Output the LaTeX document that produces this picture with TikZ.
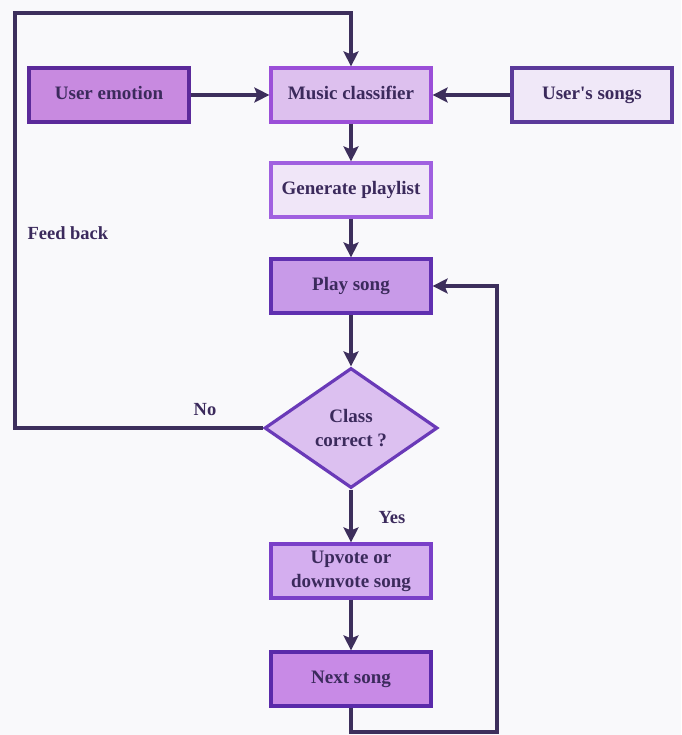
\documentclass[tikz,border=0pt]{standalone}
\usepackage{fontspec}
\setmainfont{Liberation Serif}
\usetikzlibrary{arrows.meta,shapes.geometric}
\definecolor{bg}{HTML}{F9F9FB}
\definecolor{txt}{HTML}{3B2A5C}
\definecolor{conn}{HTML}{3D2F5C}
\begin{document}
\begin{tikzpicture}[x=1pt,y=-1pt,
  box/.style={draw, line width=3.2pt, minimum width=160pt, minimum height=54pt, inner sep=2pt,
    font=\bfseries\fontsize{19}{24}\selectfont, text=txt, align=center,
    execute at begin node=\vphantom{Ag}},
  lbl/.style={font=\bfseries\fontsize{18.5}{22}\selectfont, text=txt},
  conn/.style={draw=conn, line width=3.4pt, -{Stealth[length=15pt,width=15pt,inset=3pt]}}]
\fill[bg] (0,0) rectangle (681,735);
\useasboundingbox (0,0) rectangle (681,735);
\node[box, fill={rgb,255:red,200;green,138;blue,224}, draw={rgb,255:red,91;green,42;blue,154}] (emo) at (109,95) {User emotion};
\node[box, fill={rgb,255:red,221;green,192;blue,238}, draw={rgb,255:red,155;green,79;blue,216}] (cls) at (351,95) {Music classifier};
\node[box, fill={rgb,255:red,240;green,232;blue,248}, draw={rgb,255:red,91;green,58;blue,154}] (songs) at (592,95) {User\textquotesingle s songs};
\node[box, fill={rgb,255:red,240;green,230;blue,248}, draw={rgb,255:red,160;green,96;blue,224}] (gen) at (351,190) {Generate playlist};
\node[box, fill={rgb,255:red,200;green,154;blue,232}, draw={rgb,255:red,96;green,48;blue,176}] (play) at (351,286) {Play song};
\node[diamond, draw={rgb,255:red,106;green,58;blue,184}, fill={rgb,255:red,220;green,192;blue,240}, line width=3.2pt,
  minimum width=173pt, minimum height=120pt, inner sep=0pt, aspect=1.44,
  font=\bfseries\fontsize{19}{24}\selectfont, text=txt, align=center] (dec) at (351,428) {Class\\correct ?};
\node[box, fill={rgb,255:red,212;green,174;blue,239}, draw={rgb,255:red,122;green,64;blue,200}] (vote) at (351,571) {Upvote or\\downvote song};
\node[box, fill={rgb,255:red,200;green,138;blue,230}, draw={rgb,255:red,90;green,42;blue,170}] (next) at (351,679) {Next song};
\coordinate (fbA) at (15,428);
\coordinate (fbB) at (15,13);
\coordinate (fbC) at (351,13);
\coordinate (lpA) at (351,732);
\coordinate (lpB) at (497,732);
\coordinate (lpC) at (497,286);
\draw[conn] (emo) -- (cls);
\draw[conn] (songs) -- (cls);
\draw[conn] (cls) -- (gen);
\draw[conn] (gen) -- (play);
\draw[conn] (play) -- (dec);
\draw[conn] (dec) -- (vote);
\draw[conn] (vote) -- (next);
\draw[conn] (dec.west) -- (fbA) -- (fbB) -- (fbC) -- (cls.north);
\draw[conn] (next.south) -- (lpA) -- (lpB) -- (lpC) -- (play.east);
\node[lbl, anchor=west] (fb) at (24,233) {Feed back};
\node[lbl] (no) at (205,410) {No};
\node[lbl] (yes) at (392,518) {Yes};
\end{tikzpicture}
\end{document}
